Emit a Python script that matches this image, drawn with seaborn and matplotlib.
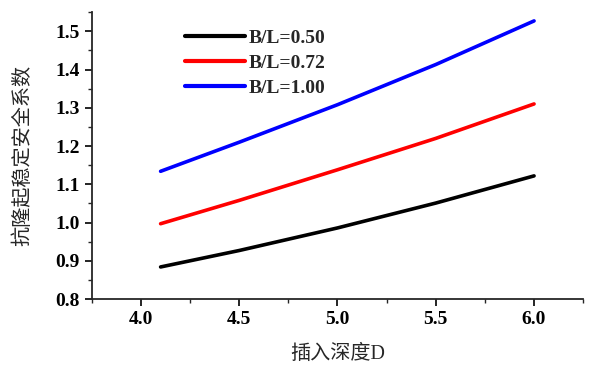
import pandas as pd
import seaborn as sns
import matplotlib.pyplot as plt
from matplotlib.ticker import MultipleLocator

depth = [4.1, 4.5, 5.0, 5.5, 6.0]
fs_050 = [0.884, 0.927, 0.986, 1.051, 1.122]
fs_072 = [0.997, 1.058, 1.138, 1.220, 1.310]
fs_100 = [1.134, 1.210, 1.308, 1.413, 1.527]
labels = ['B/L=0.50', 'B/L=0.72', 'B/L=1.00']
colors = ['black', 'red', 'blue']

rows = []
for lab, vals in zip(labels, [fs_050, fs_072, fs_100]):
    for d, v in zip(depth, vals):
        rows.append({'D': d, 'FS': v, 'case': lab})
df = pd.DataFrame(rows)

sns.set_style('ticks')
plt.rcParams['font.family'] = ['Liberation Serif', 'Noto Sans CJK SC']
plt.rcParams['xtick.direction'] = 'out'
plt.rcParams['ytick.direction'] = 'out'

fig = plt.figure(figsize=(6, 3.67), dpi=100)
ax = fig.add_axes([0.153, 0.185, 0.819, 0.782])
sns.lineplot(data=df, x='D', y='FS', hue='case', palette=colors, linewidth=2.6, ax=ax)

ax.set_xlim(3.75, 6.25)
ax.set_ylim(0.8, 1.55)
ax.xaxis.set_major_locator(MultipleLocator(0.5))
ax.xaxis.set_minor_locator(MultipleLocator(0.25))
ax.yaxis.set_major_locator(MultipleLocator(0.1))
ax.yaxis.set_minor_locator(MultipleLocator(0.05))
ax.xaxis.set_major_formatter(lambda v, p: f'{v:.1f}')
ax.yaxis.set_major_formatter(lambda v, p: f'{v:.1f}')
ax.tick_params(which='major', length=5, width=1.2, labelsize=14, colors='black')
ax.tick_params(which='minor', length=3, width=1.0)
for t in ax.get_xticklabels() + ax.get_yticklabels():
    t.set_fontweight('bold')
sns.despine(ax=ax)
ax.spines['left'].set_linewidth(1.3)
ax.spines['bottom'].set_linewidth(1.3)

ax.set_xlabel('插入深度D', fontsize=14.5, labelpad=12)
ax.set_ylabel('抗隆起稳定安全系数', fontsize=14.5, labelpad=16)

leg = ax.legend(loc='upper left', bbox_to_anchor=(0.154, 1.0), frameon=False,
                handlelength=3.1, handletextpad=0.15, labelspacing=0.37,
                prop={'size': 14, 'weight': 'bold'})
for h in leg.get_lines():
    h.set_linewidth(3)

plt.savefig('out.png', dpi=100)
